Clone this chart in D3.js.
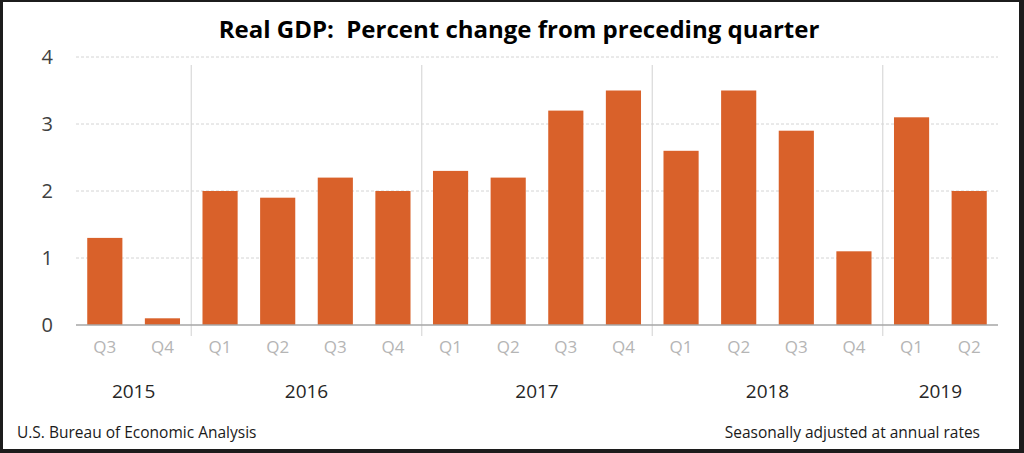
<!DOCTYPE html>
<html>
<head>
<meta charset="utf-8">
<script src="https://cdn.jsdelivr.net/npm/d3@7"></script>
<style>
  html, body { margin: 0; padding: 0; background: #fff; }
  svg { display: block; }
  text { font-family: "Open Sans", Lato, sans-serif; }
</style>
</head>
<body>
<svg id="drawing_region"></svg>
<script>
// chart values
const years = ["2015", "2016", "2017", "2018", "2019"];
const quarters = ["Q3", "Q4", "Q1", "Q2", "Q3", "Q4", "Q1", "Q2", "Q3", "Q4", "Q1", "Q2", "Q3", "Q4", "Q1", "Q2"];
const quarterYears = ["2015", "2015", "2016", "2016", "2016", "2016", "2017", "2017", "2017", "2017", "2018", "2018", "2018", "2018", "2019", "2019"];
const growth = [1.3, 0.1, 2.0, 1.9, 2.2, 2.0, 2.3, 2.2, 3.2, 3.5, 2.6, 3.5, 2.9, 1.1, 3.1, 2.0];
const yTicks = [0, 1, 2, 3, 4];

const data = quarters.map((q, i) => ({ key: i, q: q, year: quarterYears[i], v: growth[i] }));

const config = {
    width: 1024,
    height: 453,
    left: 76,
    right: 998,
    top: 57,
    bottom: 325
};

const svg = d3.select('#drawing_region')
    .attr('width', config.width)
    .attr('height', config.height);

// dark frame round the picture
svg.append('rect')
    .attr('width', config.width).attr('height', config.height)
    .attr('fill', '#1c1c1c');
svg.append('rect')
    .attr('x', 3).attr('y', 2)
    .attr('width', 1016).attr('height', 447)
    .attr('fill', '#fff');

const xscale = d3.scaleBand()
    .domain(data.map(d => d.key))
    .range([config.left, config.right])
    .paddingInner(0.39)
    .paddingOuter(0.195);

const yscale = d3.scaleLinear()
    .domain([0, 4])
    .range([config.bottom, config.top]);

// horizontal gridlines (dashed)
svg.append('g')
    .selectAll('line')
    .data(yTicks.filter(t => t > 0))
    .join('line')
    .attr('x1', config.left).attr('x2', config.right)
    .attr('y1', d => yscale(d)).attr('y2', d => yscale(d))
    .attr('stroke', '#d4d4d4')
    .attr('stroke-width', 1)
    .attr('stroke-dasharray', '3,2');

// year separators
const step = xscale.step();
const firstOf = years.slice(1).map(y => quarterYears.indexOf(y));
svg.append('g')
    .selectAll('line')
    .data(firstOf)
    .join('line')
    .attr('x1', i => xscale(i) - (step - xscale.bandwidth()) / 2)
    .attr('x2', i => xscale(i) - (step - xscale.bandwidth()) / 2)
    .attr('y1', 65).attr('y2', 336)
    .attr('stroke', '#d9d9d9')
    .attr('stroke-width', 1.2);

// bars
svg.append('g')
    .selectAll('rect')
    .data(data)
    .join('rect')
    .attr('x', d => xscale(d.key))
    .attr('width', xscale.bandwidth())
    .attr('y', d => yscale(d.v))
    .attr('height', d => yscale(0) - yscale(d.v))
    .attr('fill', '#d9612a');

// baseline
svg.append('line')
    .attr('x1', config.left).attr('x2', config.right)
    .attr('y1', yscale(0)).attr('y2', yscale(0))
    .attr('stroke', '#a6a6a6')
    .attr('stroke-width', 1.5);

// y axis labels
const yaxis = d3.axisLeft(yscale).tickValues(yTicks).tickFormat(d3.format('d')).tickSize(0).tickPadding(0);
const yaxis_group = svg.append('g')
    .attr('transform', `translate(53, 0)`)
    .call(yaxis);
yaxis_group.select('.domain').remove();
yaxis_group.selectAll('text')
    .attr('font-family', '"Open Sans", Lato, sans-serif')
    .attr('font-size', 20)
    .attr('fill', '#404040');

// quarter labels
const xaxis = d3.axisBottom(xscale).tickFormat(i => quarters[i]).tickSize(0).tickPadding(0);
const xaxis_group = svg.append('g')
    .attr('transform', `translate(0, 341)`)
    .call(xaxis);
xaxis_group.select('.domain').remove();
xaxis_group.selectAll('text')
    .attr('font-family', '"Open Sans", Lato, sans-serif')
    .attr('font-size', 17)
    .attr('fill', '#b5b5b5');

// year labels centred under their quarters
svg.append('g')
    .selectAll('text')
    .data(years)
    .join('text')
    .attr('x', y => d3.mean(data.filter(d => d.year === y), d => xscale(d.key) + xscale.bandwidth() / 2))
    .attr('y', 398)
    .attr('text-anchor', 'middle')
    .attr('font-size', 19)
    .attr('fill', '#262626')
    .text(y => y);

// title
svg.append('text')
    .attr('x', 519)
    .attr('y', 38)
    .attr('text-anchor', 'middle')
    .attr('font-size', 24)
    .attr('font-weight', 'bold')
    .attr('fill', '#000')
    .attr('xml:space', 'preserve')
    .style('white-space', 'pre')
    .text('Real GDP:  Percent change from preceding quarter');

// footer notes
svg.append('text')
    .attr('x', 17)
    .attr('y', 438)
    .attr('font-size', 15.5)
    .attr('fill', '#1a1a1a')
    .text('U.S. Bureau of Economic Analysis');

svg.append('text')
    .attr('x', 980)
    .attr('y', 438)
    .attr('text-anchor', 'end')
    .attr('font-size', 15.5)
    .attr('fill', '#1a1a1a')
    .text('Seasonally adjusted at annual rates');
</script>
</body>
</html>
